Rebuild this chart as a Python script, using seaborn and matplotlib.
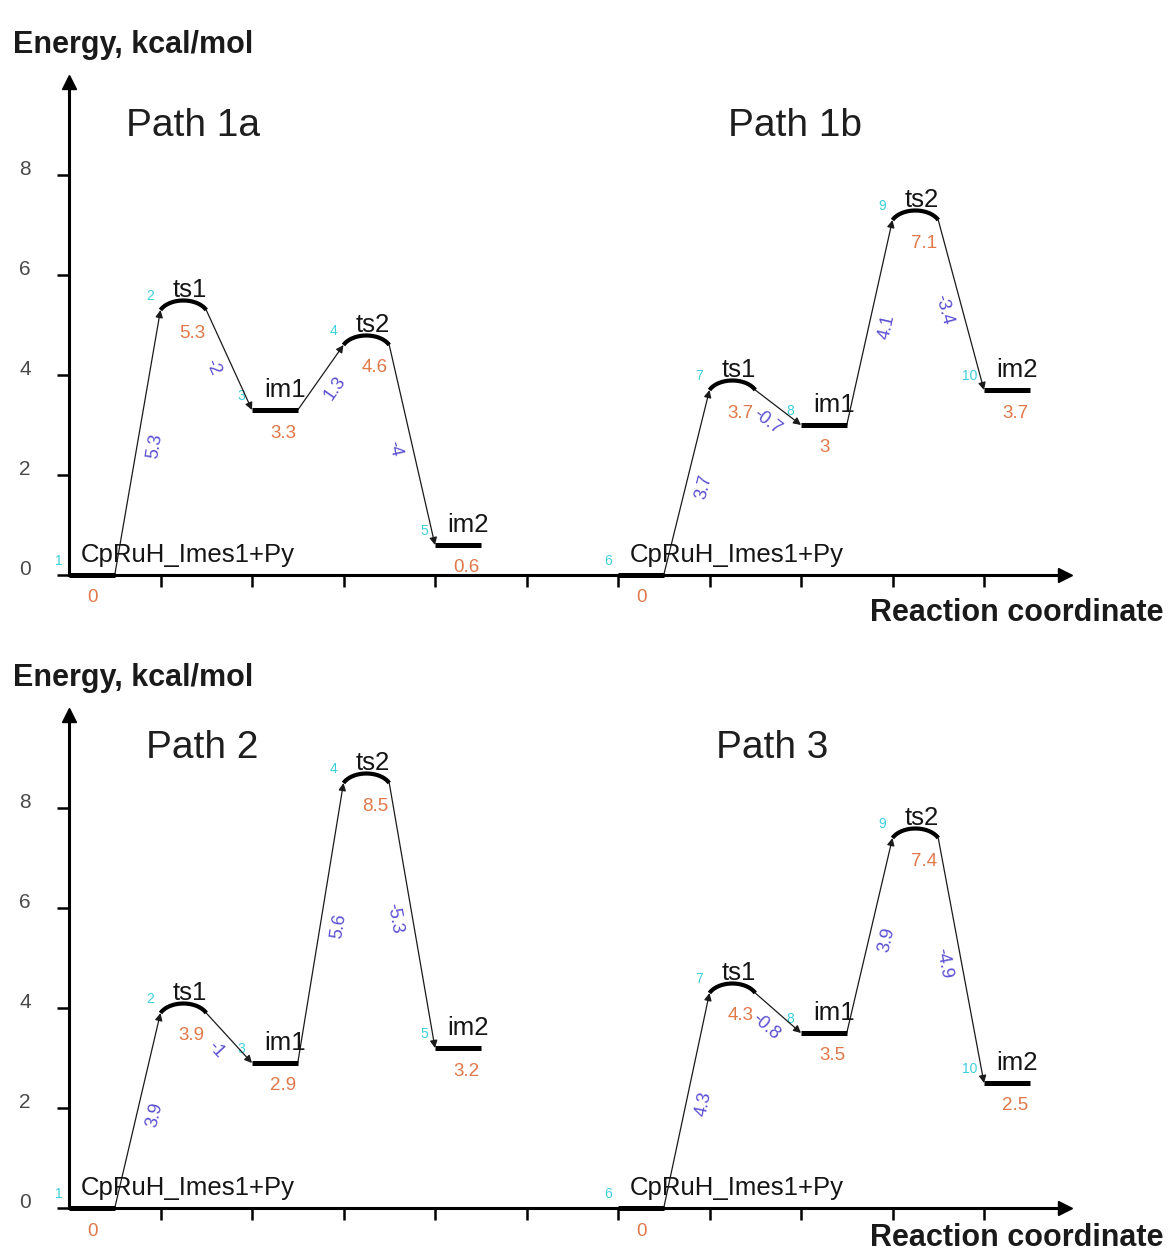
import numpy as np
import pandas as pd
import matplotlib
matplotlib.use("Agg")
import matplotlib.pyplot as plt
import seaborn as sns

# ---- data -------------------------------------------------------------
stage_names = ["CpRuH_Imes1+Py", "ts1", "im1", "ts2", "im2"]
stage_pos = [0, 1, 2, 3, 4]          # position of each stage along the reaction coordinate
ts_stages = [1, 3]                   # stages drawn as transition-state arcs

path_1a = [0.0, 5.3, 3.3, 4.6, 0.6]
path_1b = [0.0, 3.7, 3.0, 7.1, 3.7]
path_2 = [0.0, 3.9, 2.9, 8.5, 3.2]
path_3 = [0.0, 4.3, 3.5, 7.4, 2.5]

ids_left = [1, 2, 3, 4, 5]
ids_right = [6, 7, 8, 9, 10]

y_ticks = [0, 2, 4, 6, 8]
x_ticks = [1, 2, 3, 4, 5, 6, 7, 8, 9, 10]

# ---- style ------------------------------------------------------------
sns.set_theme(style="white")
plt.rcParams["font.family"] = ["Liberation Sans", "DejaVu Sans"]

W, H, DPI = 1169, 1257, 100
X0, XS, YS = 69.0, 91.5, 50.0        # pixel of x=0, pixels per unit in x and y
XLIM = (-0.75, 12.0)
YLIM = (-0.98, 10.5)

C_VAL = "#e0784a"
C_DIFF = "#5a4fd2"
C_ID = "#3ccfdc"
C_TXT = "#151515"
LEVEL_W = 0.5

fig = plt.figure(figsize=(W / DPI, H / DPI), dpi=DPI)


def make_axes(zero_py):
    left = X0 + XLIM[0] * XS
    right = X0 + XLIM[1] * XS
    top = zero_py - YLIM[1] * YS
    bottom = zero_py - YLIM[0] * YS
    ax = fig.add_axes([left / W, 1 - bottom / H, (right - left) / W, (bottom - top) / H])
    ax.set_facecolor("white")
    return ax


def draw_path(ax, energies, offset, ids):
    xs = [p + offset for p in stage_pos]

    # flat levels for reactant and intermediates
    rows = []
    for k, (x, e) in enumerate(zip(xs, energies)):
        if k in ts_stages:
            continue
        rows.append({"seg": k, "x": x, "E": e})
        rows.append({"seg": k, "x": x + LEVEL_W, "E": e})
    df = pd.DataFrame(rows)
    sns.lineplot(data=df, x="x", y="E", units="seg", estimator=None, sort=False,
                 color="black", linewidth=3.6, solid_capstyle="butt",
                 legend=False, ax=ax, zorder=3)

    # transition states as arcs
    t0 = np.radians(25)
    t = np.linspace(t0, np.pi - t0, 40)
    for k in ts_stages:
        x, e = xs[k], energies[k]
        a = (LEVEL_W / 2) / np.cos(t0)
        b = 0.19 / (1 - np.sin(t0))
        ax.plot(x + LEVEL_W / 2 + a * np.cos(t), e + b * (np.sin(t) - np.sin(t0)),
                color="black", lw=3.0, solid_capstyle="butt", zorder=3)

    # connectors with energy differences
    diffs = np.round(np.diff(energies), 1)
    for k in range(len(xs) - 1):
        p0 = (xs[k] + LEVEL_W, energies[k])
        p1 = (xs[k + 1], energies[k + 1])
        ax.annotate("", xy=p1, xytext=p0,
                    arrowprops=dict(arrowstyle="-|>", color="#1a1a1a", lw=0.9,
                                    mutation_scale=11, shrinkA=0, shrinkB=0),
                    zorder=2)
        d0 = ax.transData.transform(p0)
        d1 = ax.transData.transform(p1)
        ang = np.degrees(np.arctan2(d1[1] - d0[1], d1[0] - d0[0]))
        th = np.radians(ang)
        down = np.array([np.sin(th), -np.cos(th)]) * 18
        mid = ((p0[0] + p1[0]) / 2, (p0[1] + p1[1]) / 2)
        ax.annotate(f"{diffs[k]:g}", xy=mid, xytext=(down[0], down[1]),
                    textcoords="offset pixels", rotation=ang, ha="center", va="center",
                    fontsize=13, color=C_DIFF, zorder=4)

    # names, values and step numbers
    for k, (x, e) in enumerate(zip(xs, energies)):
        ax.text(x + 0.13, e + 0.26, stage_names[k], ha="left", va="baseline",
                fontsize=18.5, color=C_TXT, zorder=4)
        ax.text(x + 0.2, e - 0.46, f"{e:g}", ha="left", va="center",
                fontsize=13.5, color=C_VAL, zorder=4)
        ax.text(x - 0.07, e + 0.28, str(ids[k]), ha="right", va="center",
                fontsize=10, color=C_ID, zorder=1)


def style_axes(ax, rc_y):
    ax.set_xlim(*XLIM)
    ax.set_ylim(*YLIM)
    ax.set_xlabel("")
    ax.set_ylabel("")
    for s in ["top", "right"]:
        ax.spines[s].set_visible(False)
    for s in ["left", "bottom"]:
        ax.spines[s].set_position(("data", 0))
        ax.spines[s].set_linewidth(2.2)
        ax.spines[s].set_color("black")
    ax.spines["left"].set_bounds(0, 9.86)
    ax.spines["bottom"].set_bounds(0, 10.88)
    ax.plot([0], [9.86], marker="^", ms=10, color="black", clip_on=False, zorder=5)
    ax.plot([10.88], [0], marker=">", ms=10, color="black", clip_on=False, zorder=5)

    ax.set_xticks(x_ticks, labels=[""] * len(x_ticks))
    ax.set_yticks(y_ticks, labels=[str(v) for v in y_ticks], va="baseline")
    ax.tick_params(axis="x", direction="out", length=8.6, width=1.8, color="black",
                   bottom=True)
    ax.tick_params(axis="y", direction="out", length=8.6, width=1.8, color="black",
                   left=True, pad=19, labelsize=15, labelcolor="#4a4a4a")

    ax.text(-0.61, 10.44, "Energy, kcal/mol", ha="left", va="baseline",
            fontsize=22, fontweight="bold", color="#1a1a1a")
    ax.text(11.96, rc_y, "Reaction coordinate", ha="right", va="baseline",
            fontsize=22, fontweight="bold", color="#1a1a1a")


panels = [
    (575, [("Path 1a", path_1a, 0, ids_left, (1.35, 8.79)),
           ("Path 1b", path_1b, 6, ids_right, (7.93, 8.79))], -0.92),
    (1208, [("Path 2", path_2, 0, ids_left, (1.46, 9.01)),
            ("Path 3", path_3, 6, ids_right, (7.68, 9.01))], -0.76),
]

for zero_py, paths, rc_y in panels:
    ax = make_axes(zero_py)
    ax.set_xlim(*XLIM)
    ax.set_ylim(*YLIM)
    for title, energies, offset, ids, tpos in paths:
        draw_path(ax, energies, offset, ids)
        ax.text(tpos[0], tpos[1], title, ha="center", va="baseline",
                fontsize=28, color="#1e1e1e")
    style_axes(ax, rc_y)

fig.savefig("out.png", dpi=DPI, facecolor="white")
